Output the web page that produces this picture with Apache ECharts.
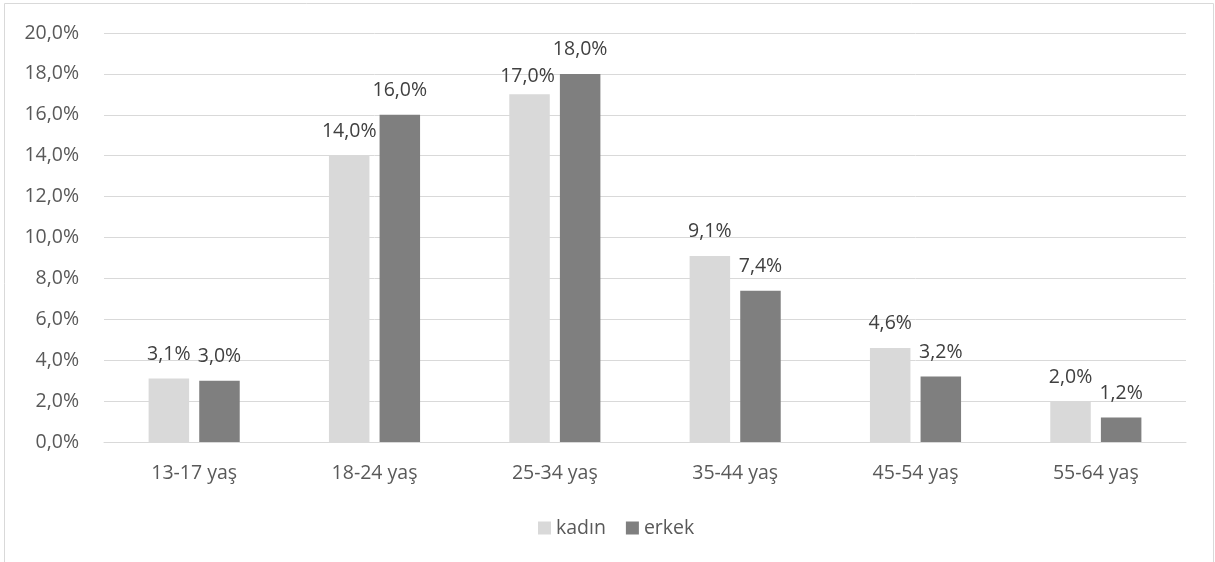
<!DOCTYPE html>
<html>
<head>
<meta charset="utf-8">
<script src="https://cdn.jsdelivr.net/npm/echarts@6/dist/echarts.min.js"></script>
<style>
  html, body { margin: 0; padding: 0; background: #ffffff; }
  #chart { width: 1215px; height: 562px; }
</style>
</head>
<body>
<div id="chart"></div>
<script>
// Age groups and the share of each gender (percent)
const categories = ['13-17 yaş', '18-24 yaş', '25-34 yaş', '35-44 yaş', '45-54 yaş', '55-64 yaş'];
const kadin = [3.1, 14.0, 17.0, 9.1, 4.6, 2.0];
const erkek = [3.0, 16.0, 18.0, 7.4, 3.2, 1.2];
const seriesNames = ['kadın', 'erkek'];

const FONT = '"Open Sans", "Noto Sans", sans-serif';
const SIZE = 19.5;
const fmt = v => v.toFixed(1).replace('.', ',') + '%';

const chart = echarts.init(document.getElementById('chart'), null, { renderer: 'canvas' });

function barSeries(name, values, color, labelShift) {
  return {
    name: name,
    type: 'bar',
    barWidth: 40.5,
    barGap: '25%',
    itemStyle: { color: color },
    label: {
      show: true,
      position: 'top',
      distance: 14,
      color: '#404040',
      fontFamily: FONT,
      fontSize: SIZE,
      lineHeight: 20,
      formatter: p => fmt(p.value)
    },
    data: values.map((v, i) => labelShift && labelShift[i]
      ? { value: v, label: { offset: labelShift[i] } }
      : v)
  };
}

chart.setOption({
  animation: false,
  textStyle: { fontFamily: FONT },
  graphic: [{
    type: 'rect',
    shape: { x: 4.5, y: 3.5, width: 1209, height: 620 },
    style: { fill: 'none', stroke: '#d9d9d9', lineWidth: 1 },
    silent: true,
    z: -10
  }],
  grid: { left: 104, right: 29, top: 33, bottom: 120, containLabel: false },
  legend: {
    data: seriesNames,
    left: 533,
    top: 513,
    itemWidth: 13,
    itemHeight: 13,
    itemGap: 20,
    icon: 'rect',
    textStyle: { color: '#595959', fontSize: SIZE, fontFamily: FONT }
  },
  xAxis: {
    type: 'category',
    data: categories,
    axisTick: { show: false },
    axisLine: { show: true, lineStyle: { color: '#d9d9d9', width: 1 } },
    axisLabel: { color: '#595959', fontSize: SIZE, fontFamily: FONT, margin: 21 }
  },
  yAxis: {
    type: 'value',
    min: 0,
    max: 20,
    interval: 2,
    axisLine: { show: false },
    axisTick: { show: false },
    splitLine: { lineStyle: { color: '#d9d9d9', width: 1 } },
    axisLabel: { color: '#595959', fontSize: SIZE, fontFamily: FONT, margin: 25, formatter: v => fmt(v) }
  },
  series: [
    barSeries(seriesNames[0], kadin, '#d9d9d9', { 2: [-2, 6] }),
    barSeries(seriesNames[1], erkek, '#7f7f7f')
  ]
});
</script>
</body>
</html>
